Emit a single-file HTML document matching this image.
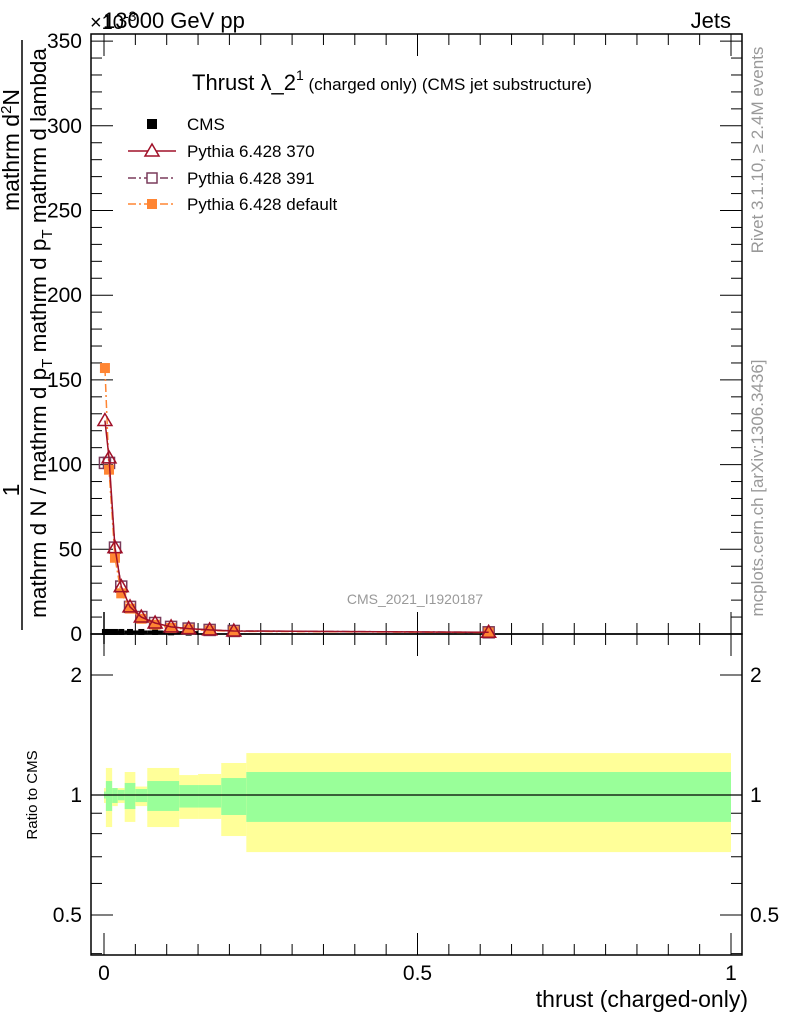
<!DOCTYPE html>
<html><head><meta charset="utf-8"><style>
body{margin:0;background:#fff}
svg text{font-family:"Liberation Sans",sans-serif}
</style></head><body>
<svg id="c" width="786" height="1024" viewBox="0 0 786 1024" xmlns="http://www.w3.org/2000/svg">
<g id="g"></g>
</svg>
<script>
const binEdges=[0,0.003,0.013,0.022,0.033,0.05,0.069,0.094,0.12,0.15,0.187,0.227,1.0];
const mc370=[126,104,51,28,16,10,6.5,4.2,3.2,2.4,1.8,1.0];
const mc391=[101,101,51,28,16,10,6.5,4.2,3.2,2.4,1.8,1.0];
const mcDef=[157,97,45,24,15,9,5.5,3.6,2.8,2.1,1.6,0.9];
const cmsVals=[1.2,1.2,1.2,1.2,1.2,1.2,1.2,1.0,0.8,0.6,0.4,0.1];
const bandEdges=[0,0.003,0.013,0.022,0.033,0.05,0.069,0.12,0.15,0.187,0.227,1.0];
const yelUp=[1.041,1.169,1.041,1.041,1.142,1.05,1.169,1.122,1.129,1.203,1.274];
const yelDn=[0.955,0.831,0.938,0.955,0.856,0.938,0.831,0.871,0.871,0.789,0.719];
const grnUp=[1.02,1.084,1.041,1.03,1.072,1.035,1.084,1.059,1.059,1.103,1.142];
const grnDn=[0.98,0.912,0.955,0.97,0.922,0.96,0.912,0.93,0.93,0.891,0.856];
const yTicks=[0,50,100,150,200,250,300,350];
const rTicks=[0.5,1,2];
const xTicks=[0,0.5,1];

const NS="http://www.w3.org/2000/svg",G=document.getElementById('g');
const L=91,R=742,T=34,MB=634,RB=955;
const X=t=>104+627*t, Y=v=>634-v*1.694, RY=r=>795-120*Math.log2(r);
function mk(tag,a,txt){const e=document.createElementNS(NS,tag);for(const k in a)e.setAttribute(k,a[k]);if(txt!=null)e.textContent=txt;G.appendChild(e);return e;}
for(let i=0;i<yelUp.length;i++){
 const x0=X(bandEdges[i]),x1=X(bandEdges[i+1]);
 const y=mk('rect',{x:x0,y:RY(yelUp[i]),width:x1-x0,height:RY(yelDn[i])-RY(yelUp[i]),fill:'#ffff99'});
 
 
 const g=mk('rect',{x:x0,y:RY(grnUp[i]),width:x1-x0,height:RY(grnDn[i])-RY(grnUp[i]),fill:'#99ff99'});
 
 
}
mk('line',{x1:L,x2:R,y1:RY(1),y2:RY(1),stroke:'#000','stroke-width':1.2});
mk('rect',{x:L,y:T,width:R-L,height:MB-T,fill:'none',stroke:'#000','stroke-width':1.5});
mk('rect',{x:L,y:MB,width:R-L,height:RB-MB,fill:'none',stroke:'#000','stroke-width':1.5});
for(let v=0;v<=350;v+=10){const maj=v%50==0,len=maj?22:11;
 mk('line',{x1:L,x2:L+len,y1:Y(v),y2:Y(v),stroke:'#000'});mk('line',{x1:R,x2:R-len,y1:Y(v),y2:Y(v),stroke:'#000'});}
yTicks.forEach(v=>{const t=mk('text',{x:82,y:Y(v)+7,'font-size':21,'text-anchor':'end'},v);
 });
for(let i=0;i<=20;i++){const t=i*0.05,maj=i%10==0,len=maj?22:11;
 [[MB,-1],[T,1],[RB,-1],[MB,1]].forEach(([y0,d])=>mk('line',{x1:X(t),x2:X(t),y1:y0,y2:y0+d*len,stroke:'#000'}));}
mk('line',{x1:X(0),x2:X(0),y1:MB-22,y2:MB+10,stroke:'#000','stroke-width':1.5});
xTicks.forEach(t=>{const e=mk('text',{x:X(t),y:980,'font-size':21,'text-anchor':'middle'},t);
 });
[0.4,0.5,0.6,0.7,0.8,0.9,1,2].forEach(r=>{const maj=rTicks.includes(r),len=maj?22:11;
 mk('line',{x1:L,x2:L+len,y1:RY(r),y2:RY(r),stroke:'#000'});mk('line',{x1:R,x2:R-len,y1:RY(r),y2:RY(r),stroke:'#000'});});
rTicks.forEach(r=>{mk('text',{x:82,y:RY(r)+7,'font-size':21,'text-anchor':'end'},r);mk('text',{x:750,y:RY(r)+7,'font-size':21},r);});
cmsVals.forEach((v,i)=>{if(i>8)return;const x0=X(binEdges[i]),x1=X(binEdges[i+1]),xc=(x0+x1)/2;
 mk('line',{x1:x0,x2:x1,y1:Y(v),y2:Y(v),stroke:'#000','stroke-width':3});
 const m=mk('rect',{x:xc-3,y:Y(v)-3,width:6,height:6,fill:'#000'});
 });
function series(vals,col,dash,marker,name){
 const pts=vals.map((v,i)=>[(X(binEdges[i])+X(binEdges[i+1]))/2,Y(v)]);
 const p=mk('polyline',{points:pts.map(p=>p.join(',')).join(' '),fill:'none',stroke:col,'stroke-width':1.5,'stroke-dasharray':dash});
 
 pts.forEach(([x,y])=>{let m;
  if(marker=='tri')m=mk('polygon',{points:`${x},${y-7} ${x-7},${y+5} ${x+7},${y+5}`,fill:'none',stroke:col,'stroke-width':1.5});
  else if(marker=='sq')m=mk('rect',{x:x-5.5,y:y-5.5,width:11,height:11,fill:'none',stroke:col,'stroke-width':1.5});
  else m=mk('rect',{x:x-5,y:y-5,width:10,height:10,fill:col});
  });
}
series(mc391,'#7a3c5c','8,3,2,3','sq','pythia-391');
series(mcDef,'#ff8533','8,3,2,3','fill','pythia-default');
series(mc370,'#a01028','','tri','pythia-370');
const lg=[['CMS',124],['Pythia 6.428 370',151],['Pythia 6.428 391',178],['Pythia 6.428 default',204]];
mk('rect',{x:147,y:119,width:10,height:10,fill:'#000'});
mk('line',{x1:128,x2:176,y1:151,y2:151,stroke:'#a01028','stroke-width':1.5});
mk('polygon',{points:'152,144 145,156 159,156',fill:'#fff',stroke:'#a01028','stroke-width':1.5});
mk('line',{x1:128,x2:176,y1:178,y2:178,stroke:'#7a3c5c','stroke-dasharray':'8,3,2,3','stroke-width':1.5});
mk('rect',{x:147,y:173,width:10,height:10,fill:'#fff',stroke:'#7a3c5c','stroke-width':1.5});
mk('line',{x1:128,x2:176,y1:204,y2:204,stroke:'#ff8533','stroke-dasharray':'8,3,2,3','stroke-width':1.5});
mk('rect',{x:147,y:199,width:10,height:10,fill:'#ff8533'});
lg.forEach(([s,y])=>{const e=mk('text',{x:187,y:y+6,'font-size':17},s);});
</script>
<svg x="0" y="0" width="786" height="1024" style="position:absolute;left:0;top:0" xmlns="http://www.w3.org/2000/svg">
<text x="192" y="90" font-size="22" font-family="Liberation Sans,sans-serif">Thrust λ_2<tspan font-size="14" dy="-10">1</tspan><tspan font-size="17" dy="10"> (charged only) (CMS jet substructure)</tspan></text>
<text x="90" y="29" font-size="20" font-family="Liberation Sans,sans-serif">×10<tspan font-size="14" dy="-8">-3</tspan></text>
<text x="103" y="28" font-size="22" font-family="Liberation Sans,sans-serif">13000 GeV pp</text>
<text x="731" y="28" font-size="22" text-anchor="end" font-family="Liberation Sans,sans-serif">Jets</text>
<text x="415" y="604" font-size="14" fill="#999" text-anchor="middle" font-family="Liberation Sans,sans-serif">CMS_2021_I1920187</text>
<text x="748" y="1007" font-size="23" text-anchor="end" font-family="Liberation Sans,sans-serif">thrust (charged-only)</text>
<text transform="translate(37,795) rotate(-90)" font-size="15" text-anchor="middle" font-family="Liberation Sans,sans-serif">Ratio to CMS</text>
<text transform="translate(763,150) rotate(-90)" font-size="17" fill="#999" text-anchor="middle" font-family="Liberation Sans,sans-serif">Rivet 3.1.10, ≥ 2.4M events</text>
<text transform="translate(763,488) rotate(-90)" font-size="17" fill="#999" text-anchor="middle" font-family="Liberation Sans,sans-serif">mcplots.cern.ch [arXiv:1306.3436]</text>
<line x1="22" y1="40" x2="22" y2="630" stroke="#000" stroke-width="1.5"/>
<text transform="translate(19,150) rotate(-90)" font-size="23" text-anchor="middle" font-family="Liberation Sans,sans-serif">mathrm d<tspan font-size="15" dy="-8">2</tspan><tspan dy="8">N</tspan></text>
<text transform="translate(19,490) rotate(-90)" font-size="23" text-anchor="middle" font-family="Liberation Sans,sans-serif">1</text>
<text transform="translate(46,333) rotate(-90)" font-size="22.5" text-anchor="middle" font-family="Liberation Sans,sans-serif">mathrm d N / mathrm d p<tspan font-size="15" dy="6">T</tspan><tspan dy="-6"> mathrm d p</tspan><tspan font-size="15" dy="6">T</tspan><tspan dy="-6"> mathrm d lambda</tspan></text>
</svg>
</body></html>
